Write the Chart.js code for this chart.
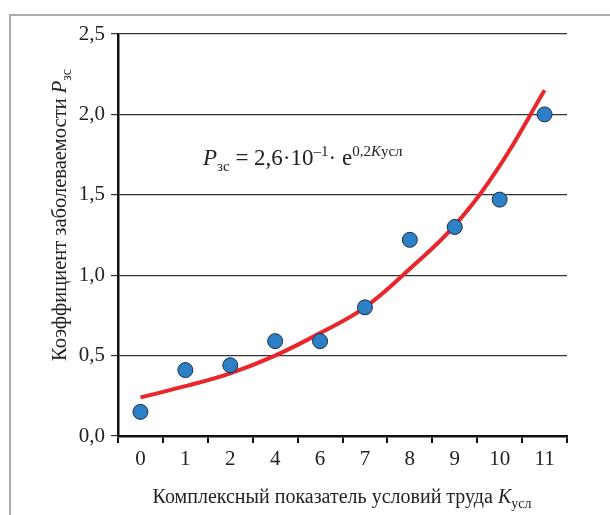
<!DOCTYPE html>
<html>
<head>
<meta charset="utf-8">
<script src="https://cdn.jsdelivr.net/npm/chart.js@4.4.1/dist/chart.umd.min.js"></script>
<style>
    html, body { margin: 0; padding: 0; background: #fff; }
    #wrap { width: 610px; height: 515px; position: relative; }
</style>
</head>
<body>
<div id="wrap"><canvas id="chart"></canvas></div>
<script>
        // Data
        const categories = ['0', '1', '2', '4', '6', '7', '8', '9', '10', '11'];
        const observed = [0.15, 0.41, 0.44, 0.59, 0.59, 0.80, 1.22, 1.30, 1.47, 2.00];
        const trend = [0.24, 0.31, 0.39, 0.50, 0.64, 0.80, 1.04, 1.31, 1.68, 2.15];
        const yTicks = [0, 0.5, 1.0, 1.5, 2.0, 2.5];

        const SERIF = '"Liberation Serif", "Times New Roman", serif';
        const INK = '#222';

        // draw a run of text pieces (for sub/superscripts)
        function runWidth(ctx, runs) {
            let w = 0;
            runs.forEach(r => {
                ctx.font = (r.style || '') + ' ' + r.size + 'px ' + SERIF;
                w += ctx.measureText(r.t).width;
            });
            return w;
        }
        function drawRuns(ctx, runs, x, y) {
            let cx = x;
            runs.forEach(r => {
                ctx.font = (r.style || '') + ' ' + r.size + 'px ' + SERIF;
                ctx.fillText(r.t, cx, y + (r.dy || 0));
                cx += ctx.measureText(r.t).width;
            });
        }

        const xTitle = [
            { t: 'Комплексный показатель условий труда ', size: 20 },
            { t: 'K', size: 20, style: 'italic' },
            { t: 'усл', size: 14, dy: 5 }
        ];
        const yTitle = [
            { t: 'Коэффициент заболеваемости ', size: 20.5 },
            { t: 'P', size: 20.5, style: 'italic' },
            { t: 'зс', size: 14, dy: 5 }
        ];
        const formula = [
            { t: 'P', size: 23, style: 'italic' },
            { t: 'зс', size: 15, dy: 6 },
            { t: ' = 2,6·10', size: 23 },
            { t: '–1', size: 15, dy: -9 },
            { t: '· e', size: 23 },
            { t: '0,2', size: 15, dy: -9 },
            { t: 'K', size: 15, style: 'italic', dy: -9 },
            { t: 'усл', size: 15, dy: -9 }
        ];

        const textPlugin = {
            id: 'texts',
            beforeDraw(chart) {
                const ctx = chart.ctx;
                ctx.save();
                // outer frame
                ctx.strokeStyle = '#aaa';
                ctx.lineWidth = 2;
                ctx.beginPath();
                ctx.moveTo(10, 515);
                ctx.lineTo(10, 15);
                ctx.lineTo(610, 15);
                ctx.stroke();
                ctx.restore();
            },
            afterDraw(chart) {
                const ctx = chart.ctx;
                ctx.save();
                ctx.fillStyle = INK;
                ctx.textBaseline = 'alphabetic';
                // x title
                const xw = runWidth(ctx, xTitle);
                drawRuns(ctx, xTitle, 342 - xw / 2, 503);
                // y title (rotated)
                ctx.save();
                ctx.translate(66, 215);
                ctx.rotate(-Math.PI / 2);
                const yw = runWidth(ctx, yTitle);
                drawRuns(ctx, yTitle, -yw / 2, 0);
                ctx.restore();
                // formula
                drawRuns(ctx, formula, 203, 165);
                ctx.restore();
            }
        };

        const ctx = document.getElementById('chart').getContext('2d');
        new Chart(ctx, {
            type: 'line',
            data: {
                labels: categories,
                datasets: [{
                    label: 'Тренд',
                    data: trend,
                    borderColor: '#e8262b',
                    borderWidth: 4,
                    pointRadius: 0,
                    tension: 0.4,
                    fill: false,
                    order: 2
                }, {
                    label: 'Данные',
                    data: observed,
                    showLine: false,
                    pointRadius: 7.5,
                    pointBackgroundColor: '#2e80c6',
                    pointBorderColor: '#1b3047',
                    pointBorderWidth: 1,
                    order: 1
                }]
            },
            options: {
                responsive: true,
                maintainAspectRatio: false,
                animation: false,
                layout: {
                    padding: { left: 0, right: 43, top: 34, bottom: 0 }
                },
                scales: {
                    x: {
                        type: 'category',
                        offset: true,
                        grid: {
                            offset: true,
                            drawOnChartArea: false,
                            drawTicks: true,
                            tickLength: 7,
                            color: '#111',
                            lineWidth: 2
                        },
                        border: { display: true, color: '#111', width: 2.5 },
                        ticks: {
                            color: INK,
                            font: { family: SERIF, size: 21 },
                            padding: 4
                        },
                        afterFit(scale) { scale.height = 79; }
                    },
                    y: {
                        min: 0,
                        max: 2.5,
                        afterBuildTicks(scale) {
                            scale.ticks = yTicks.map(v => ({ value: v }));
                        },
                        grid: {
                            color: '#333',
                            lineWidth: 1.2,
                            drawTicks: true,
                            tickLength: 7
                        },
                        border: { display: true, color: '#111', width: 2.5 },
                        ticks: {
                            color: INK,
                            font: { family: SERIF, size: 21 },
                            padding: 6,
                            callback: v => v.toFixed(1).replace('.', ',')
                        },
                        afterFit(scale) { scale.width = 118; }
                    }
                },
                plugins: {
                    legend: { display: false },
                    tooltip: { enabled: false }
                }
            },
            plugins: [textPlugin]
        });
</script>
</body>
</html>
